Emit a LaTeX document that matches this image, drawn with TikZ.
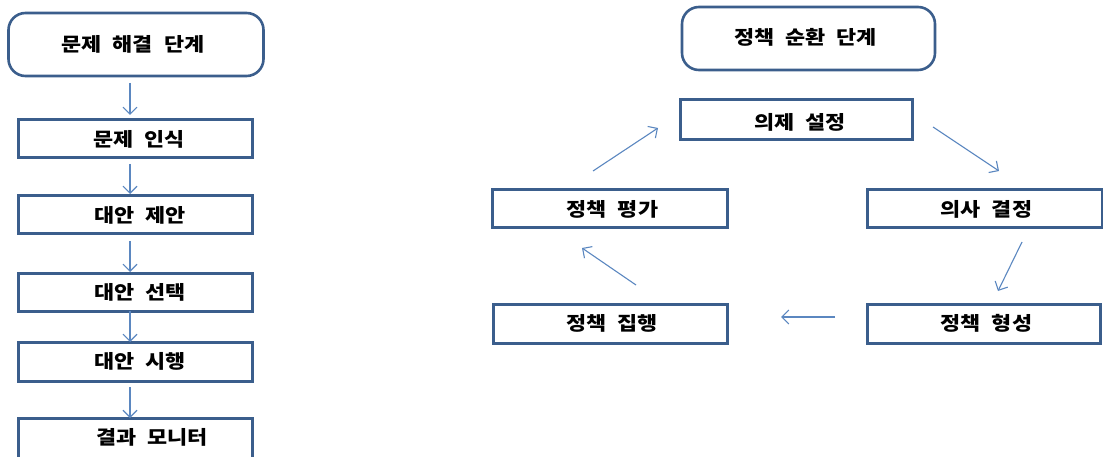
\documentclass[tikz,border=0pt]{standalone}
\usepackage{fontspec}
\usetikzlibrary{arrows.meta}
\newfontfamily\kr[FakeStretch=1.15,WordSpace=2.2]{Noto Sans CJK KR}
\definecolor{boxline}{HTML}{3B5E8C}
\definecolor{arrowline}{HTML}{5B87C0}
\tikzset{
  box/.style={draw=boxline,line width=3pt,fill=white,minimum height=38pt,minimum width=234pt,inner sep=0pt},
  titlebox/.style={draw=boxline,line width=2.6pt,rounded corners=17pt,minimum height=63pt,minimum width=255pt,inner sep=0pt},
  lab/.style={font=\kr\bfseries\fontsize{19pt}{22pt}\selectfont,text=black,inner sep=0pt},
  conn/.style={draw=arrowline,line width=1.1pt,-{Straight Barb[length=7pt,width=14pt,line width=1.1pt]}}
}
\begin{document}
\begin{tikzpicture}[x=1pt,y=-1pt]
\useasboundingbox (0,0) rectangle (1103,457);
% left column
\node[titlebox,label={[lab,xshift=-3pt]center:문제 해결 단계}] (t1) at (136,44.5) {};
\node[box,label={[lab,xshift=4pt]center:문제 인식}] (b1) at (135,139) {};
\node[box,label={[lab,xshift=5pt]center:대안 제안}] (b2) at (135,215) {};
\node[box,label={[lab,xshift=5pt]center:대안 선택}] (b3) at (135,292) {};
\node[box,minimum height=39pt,label={[lab,xshift=5pt]center:대안 시행}] (b4) at (135,361.5) {};
\node[box,minimum height=42pt,label={[lab,xshift=17pt,yshift=2pt]center:결과 모니터}] (b5) at (135,439) {};
\coordinate (l1s) at (130,83);  \coordinate (l1e) at (130,115);
\coordinate (l2s) at (130,164); \coordinate (l2e) at (130,194);
\coordinate (l3s) at (130,241); \coordinate (l3e) at (130,272);
\coordinate (l4s) at (130,311); \coordinate (l4e) at (130,342);
\coordinate (l5s) at (130,387); \coordinate (l5e) at (130,418);
\draw[conn] (l1s) -- (l1e);
\draw[conn] (l2s) -- (l2e);
\draw[conn] (l3s) -- (l3e);
\draw[conn] (l4s) -- (l4e);
\draw[conn] (l5s) -- (l5e);
% right cycle
\node[titlebox,minimum width=253pt,label={[lab,xshift=-3pt,yshift=1pt]center:정책 순환 단계}] (t2) at (808.5,38.5) {};
\node[box,minimum width=232pt,minimum height=40pt,label={[lab,xshift=4pt,yshift=-2pt]center:의제 설정}] (r1) at (796,120) {};
\node[box,minimum width=235pt,label={[lab,xshift=2pt]center:의사 결정}] (r2) at (984.5,209) {};
\node[box,minimum width=233pt,minimum height=39pt,label={[lab,xshift=3pt]center:정책 형성}] (r3) at (983.5,323.5) {};
\node[box,minimum width=234pt,minimum height=39pt,label={[lab,xshift=2pt]center:정책 집행}] (r4) at (610,323.5) {};
\node[box,minimum width=235pt,label={[lab,xshift=3pt]center:정책 평가}] (r5) at (609.5,209) {};
\coordinate (a1s) at (933,127);  \coordinate (a1e) at (999,171);
\coordinate (a2s) at (1022,242); \coordinate (a2e) at (998,291);
\coordinate (a3s) at (835,317);  \coordinate (a3e) at (781,317);
\coordinate (a4s) at (636,285);  \coordinate (a4e) at (582,248);
\coordinate (a5s) at (593,171);  \coordinate (a5e) at (658,128);
\draw[conn] (a1s) -- (a1e);
\draw[conn] (a2s) -- (a2e);
\draw[conn] (a3s) -- (a3e);
\draw[conn] (a4s) -- (a4e);
\draw[conn] (a5s) -- (a5e);
\end{tikzpicture}
\end{document}
